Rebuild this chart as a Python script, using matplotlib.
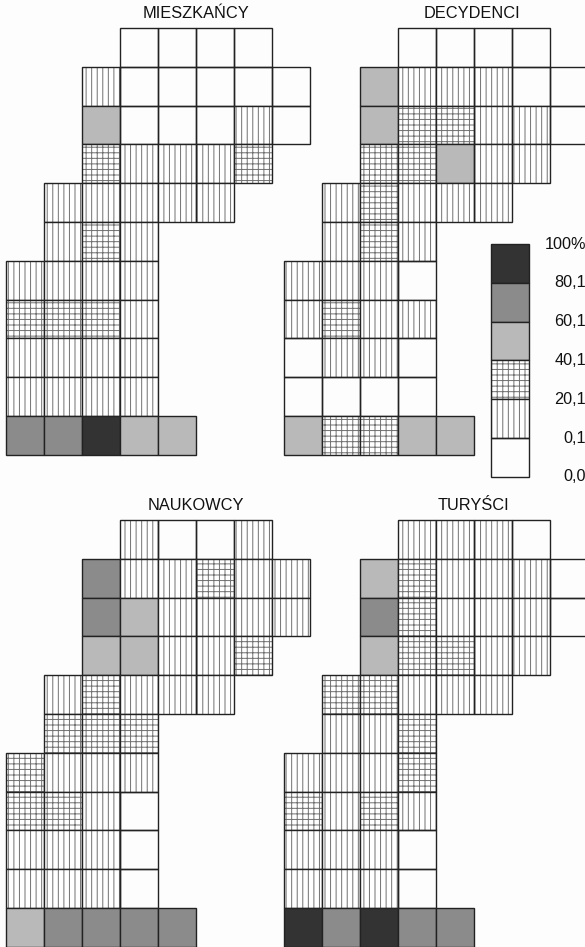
import matplotlib
matplotlib.use('Agg')
import matplotlib.pyplot as plt
from matplotlib.patches import Rectangle

plt.rcParams['font.family'] = ['Liberation Sans', 'DejaVu Sans']
plt.rcParams['hatch.linewidth'] = 0.7

# klasy: 0 puste, 1 pionowe, 2 kratka, 3 jasny szary, 4 szary, 5 ciemny
mieszkancy = [
    [0, 0, 0, 0],
    [1, 0, 0, 0, 0, 0],
    [3, 0, 0, 0, 1, 0],
    [2, 1, 1, 1, 2],
    [1, 1, 1, 1, 1],
    [1, 2, 1],
    [1, 1, 1, 1],
    [2, 2, 2, 1],
    [1, 1, 1, 1],
    [1, 1, 1, 1],
    [4, 4, 5, 3, 3],
]
decydenci = [
    [0, 0, 0, 0],
    [3, 1, 1, 1, 0, 0],
    [3, 2, 2, 1, 1, 0],
    [2, 2, 3, 1, 1],
    [1, 2, 1, 1, 1],
    [1, 2, 1],
    [1, 1, 1, 0],
    [1, 2, 1, 1],
    [0, 1, 1, 0],
    [0, 0, 0, 0],
    [3, 2, 2, 3, 3],
]
naukowcy = [
    [1, 0, 0, 1],
    [4, 1, 1, 2, 1, 1],
    [4, 3, 1, 1, 1, 1],
    [3, 3, 1, 1, 2],
    [1, 2, 1, 1, 1],
    [2, 2, 2],
    [2, 1, 1, 1],
    [2, 2, 1, 0],
    [1, 1, 1, 0],
    [1, 1, 1, 0],
    [3, 4, 4, 4, 4],
]
turysci = [
    [1, 1, 1, 0],
    [3, 2, 1, 1, 1, 0],
    [4, 2, 1, 1, 1, 0],
    [3, 2, 2, 1, 1],
    [2, 2, 1, 1, 1],
    [1, 1, 2],
    [1, 1, 1, 2],
    [2, 1, 2, 1],
    [1, 1, 1, 0],
    [1, 1, 1, 0],
    [5, 4, 5, 4, 4],
]
row_start = [3, 2, 2, 2, 1, 1, 0, 0, 0, 0, 0]
legend_classes = [5, 4, 3, 2, 1, 0]
legend_labels = ['100%', '80,1', '60,1', '40,1', '20,1', '0,1', '0,0']

CELL_W = 38
CELL_H = 38.8
fills = {3: '#b9b9b9', 4: '#8b8b8b', 5: '#333333'}
hatches = {1: '|||', 2: '+++'}


def draw_cell(ax, x, y, w, h, cls):
    if cls in fills:
        ax.add_patch(Rectangle((x, y), w, h, facecolor=fills[cls], edgecolor='none'))
    elif cls in hatches:
        ax.add_patch(Rectangle((x, y), w, h, facecolor='white', edgecolor='#707070',
                               hatch=hatches[cls], linewidth=0))
    # ramka osobno, bo kreskowanie jest cieńsze
    ax.add_patch(Rectangle((x, y), w, h, fill=False, edgecolor='#222222', linewidth=1.0))


def draw_panel(ax, data, x0, y0, title, title_x, title_y):
    for r, row in enumerate(data):
        for c, cls in enumerate(row):
            draw_cell(ax, x0 + (row_start[r] + c) * CELL_W, y0 + r * CELL_H, CELL_W, CELL_H, cls)
    ax.text(title_x, title_y, title, ha='center', va='center', fontsize=11.8, color='#111111')


fig = plt.figure(figsize=(5.85, 9.47), dpi=100)
ax = fig.add_axes([0, 0, 1, 1])
ax.set_xlim(0, 585)
ax.set_ylim(947, 0)
ax.axis('off')

draw_panel(ax, mieszkancy, 6, 28, 'MIESZKAŃCY', 196, 13)
draw_panel(ax, decydenci, 284, 28, 'DECYDENCI', 472, 13)
draw_panel(ax, naukowcy, 6, 520, 'NAUKOWCY', 196, 505)
draw_panel(ax, turysci, 284, 520, 'TURYŚCI', 473, 505)

# legenda
for i, cls in enumerate(legend_classes):
    draw_cell(ax, 491, 244 + i * CELL_H, CELL_W, CELL_H, cls)
for i, lab in enumerate(legend_labels):
    ax.text(586, 244 + i * CELL_H, lab, ha='right', va='center', fontsize=11.7, color='#111111')

fig.savefig('out.png', dpi=100, facecolor='#fdfdfd')
